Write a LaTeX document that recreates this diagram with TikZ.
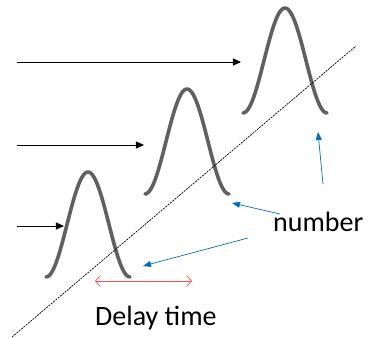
\documentclass[tikz,border=0pt]{standalone}
\usepackage{fontspec}
\setmainfont{Carlito}
\usetikzlibrary{arrows.meta, positioning}
\definecolor{pulseGray}{RGB}{96, 96, 96}
\definecolor{markBlue}{RGB}{0, 112, 192}
\definecolor{delayRed}{RGB}{250, 80, 80}

\begin{document}
\begin{tikzpicture}[
  x=1pt, y=-1pt,
  pulse/.style={line width=3.6pt, pulseGray, line cap=round},
  feed/.style={-{Triangle[length=8pt, width=7pt]}, line width=0.8pt, black},
  pointer/.style={-{Triangle[length=8pt, width=6pt]}, line width=0.7pt, markBlue},
  tag/.style={font=\fontsize{28}{30}\selectfont, inner sep=0pt, anchor=base west}
]
  \useasboundingbox (0,0) rectangle (368,338);
  % pulses, each one delayed along the diagonal
  \foreach \cx/\cy/\name in {88/277/p1, 187/194/p2, 285/113/p3}{
    \draw[pulse] plot[domain=-42:42, samples=50, smooth]
      ({\cx+\x}, {\cy-105*cos(\x*90/42)^2});
    \coordinate (\name) at (\cx,\cy);
  }
  \coordinate (d0) at (12,337);
  \coordinate (d1) at (356,46);
  \draw[line width=0.7pt, dash pattern=on 2pt off 1pt] (d0) -- (d1);

  % incoming arrows
  \coordinate (a1) at (17,226);  \coordinate (b1) at (64,226);
  \coordinate (a2) at (17,145);  \coordinate (b2) at (144,145);
  \coordinate (a3) at (17,62);   \coordinate (b3) at (241,62);
  \draw[feed] (a1) -- (b1);
  \draw[feed] (a2) -- (b2);
  \draw[feed] (a3) -- (b3);

  \node[tag] (num) at (273,231) {number};
  \node[tag] (dly) at (95,325) {Delay time};

  \coordinate (n1) at (248,238);  \coordinate (m1) at (143,266);
  \coordinate (n2) at (280,214);  \coordinate (m2) at (232,203);
  \coordinate (n3) at (323,184);  \coordinate (m3) at (318,132);
  \draw[pointer] (n1) -- (m1);
  \draw[pointer] (n2) -- (m2);
  \draw[pointer] (n3) -- (m3);

  \coordinate (t0) at (95,281);  \coordinate (t1) at (192,281);
  \draw[delayRed, line width=0.7pt,
    {Straight Barb[length=5pt, width=11pt]}-{Straight Barb[length=5pt, width=11pt]}]
    (t0) -- (t1);
\end{tikzpicture}
\end{document}
